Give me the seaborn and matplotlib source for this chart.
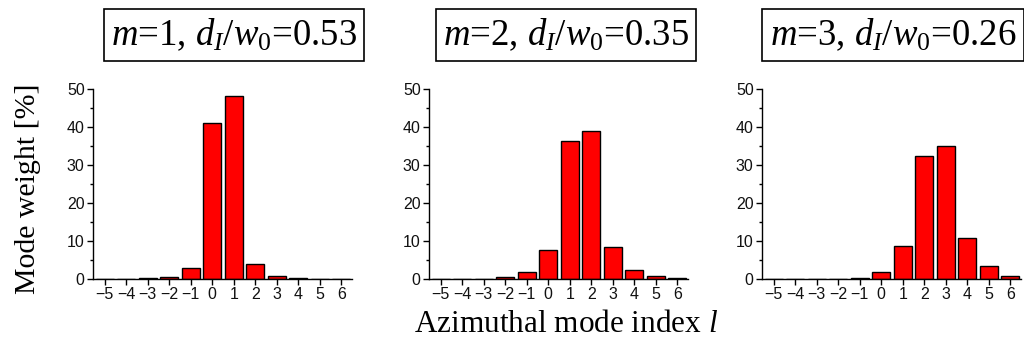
import matplotlib
matplotlib.use("Agg")
import matplotlib.pyplot as plt
from matplotlib.ticker import MultipleLocator
import seaborn as sns
import pandas as pd

sns.set_style("white")
plt.rcParams["font.family"] = ["Liberation Sans", "DejaVu Sans"]
plt.rcParams["text.color"] = "black"
plt.rcParams["mathtext.fontset"] = "custom"
plt.rcParams["mathtext.rm"] = "Liberation Serif"
plt.rcParams["mathtext.it"] = "Liberation Serif:italic"

l_index = [-5, -4, -3, -2, -1, 0, 1, 2, 3, 4, 5, 6]
weights_m1 = [0, 0, 0.2, 0.5, 2.8, 41.0, 48.2, 4.0, 0.9, 0.2, 0, 0]
weights_m2 = [0, 0, 0, 0.6, 1.8, 7.7, 36.3, 39.0, 8.3, 2.4, 0.9, 0.2]
weights_m3 = [0, 0, 0, 0, 0.3, 1.8, 8.7, 32.3, 35.0, 10.8, 3.3, 0.9]
titles = [r"$m$=1, $d_I/w_0$=0.53", r"$m$=2, $d_I/w_0$=0.35", r"$m$=3, $d_I/w_0$=0.26"]

fig = plt.figure(figsize=(10.24, 3.45), dpi=100)
lefts = [93, 429, 762]
title_x = [234, 566, 893]
tick_labels = [str(v).replace("-", "\u2212") for v in l_index]

for left, tx, weights, title in zip(lefts, title_x, [weights_m1, weights_m2, weights_m3], titles):
    ax = fig.add_axes([left / 1024, 66 / 345, 259 / 1024, 190 / 345])
    df = pd.DataFrame({"l": l_index, "w": weights})
    sns.barplot(data=df, x="l", y="w", order=l_index, color="#ff0000",
                saturation=1, edgecolor="black", linewidth=1.0, width=0.85, ax=ax)
    ax.set_xlim(-0.55, 11.5)
    ax.set_ylim(0, 50)
    ax.set_xlabel("")
    ax.set_ylabel("")
    ax.set_xticks(range(len(l_index)))
    ax.set_xticklabels(tick_labels)
    ax.yaxis.set_major_locator(MultipleLocator(10))
    ax.yaxis.set_minor_locator(MultipleLocator(5))
    sns.despine(ax=ax)
    for s in ["left", "bottom"]:
        ax.spines[s].set_color("black")
        ax.spines[s].set_linewidth(1.0)
    ax.tick_params(axis="both", which="major", direction="out", length=4, width=1,
                   color="black", labelsize=11.5, labelcolor="#111111", pad=2, left=True, bottom=True)
    ax.tick_params(axis="y", which="minor", direction="out", length=2, width=1,
                   color="black", left=True)
    fig.text(tx / 1024, 1 - 35 / 345, title, ha="center", va="center", fontsize=26.5,
             family="Liberation Serif",
             bbox=dict(boxstyle="square,pad=0.2", facecolor="white", edgecolor="black", linewidth=1.2))

fig.text(28 / 1024, 1 - 189 / 345, "Mode weight [%]", rotation=90, ha="center", va="center",
         fontsize=21.5, family="Liberation Serif")
fig.text(566 / 1024, 1 - 324 / 345, r"Azimuthal mode index $l$", ha="center", va="center",
         fontsize=22.5, family="Liberation Serif")

fig.savefig("out.png", dpi=100, facecolor="white")
